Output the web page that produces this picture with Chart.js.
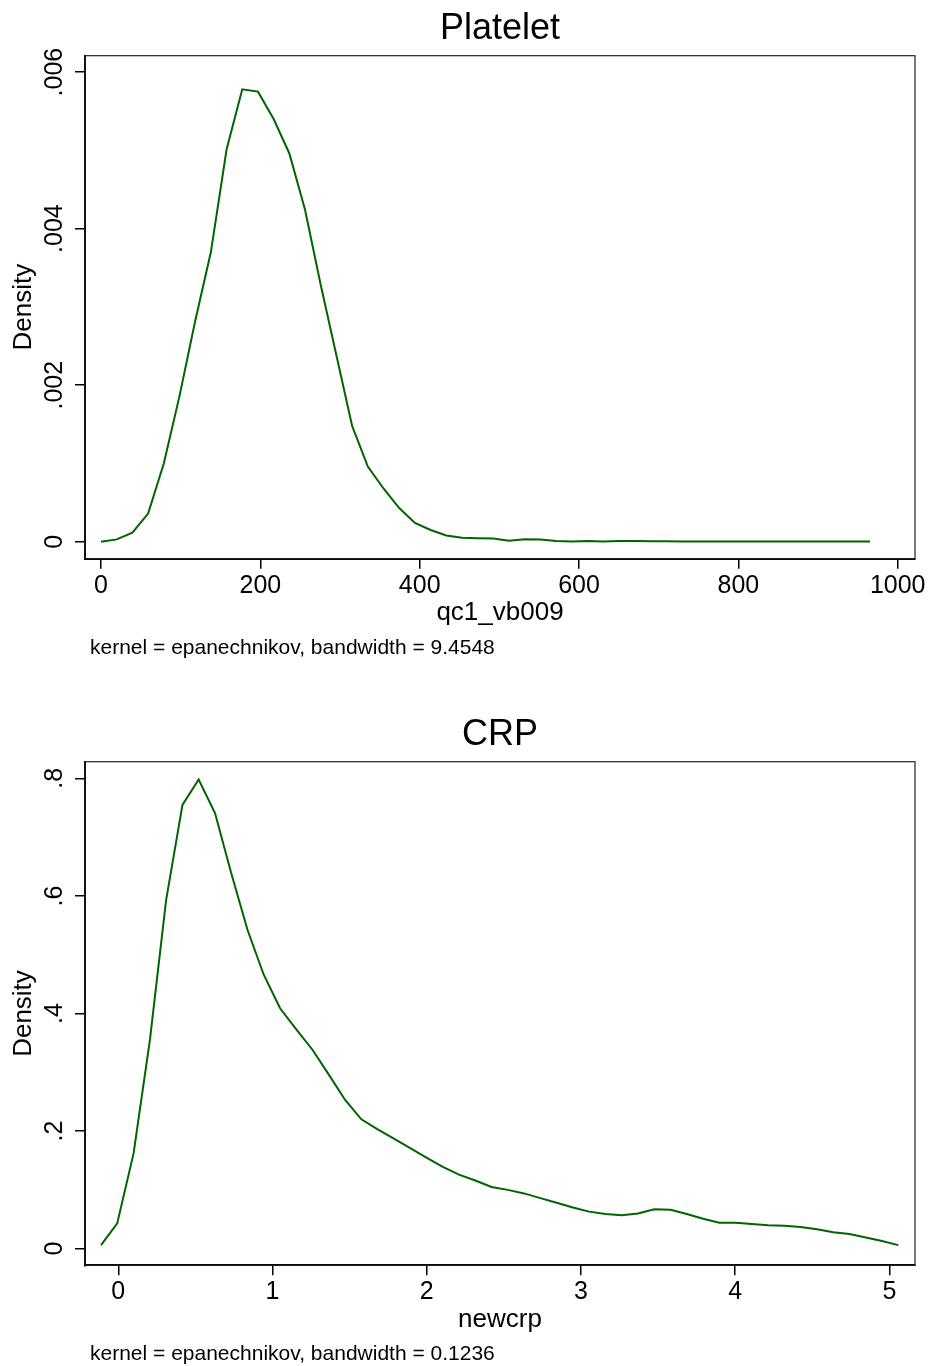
<!DOCTYPE html>
<html>
<head>
<meta charset="utf-8">
<script src="https://cdn.jsdelivr.net/npm/chart.js@4.4.1/dist/chart.umd.min.js"></script>
<style>
  html, body { margin: 0; padding: 0; background: #fff; }
  .box { position: absolute; left: 0; width: 930px; }
  #box1 { top: 0; height: 706px; }
  #box2 { top: 706px; height: 660px; }
</style>
</head>
<body>
<div class="box" id="box1"><canvas id="platelet"></canvas></div>
<div class="box" id="box2"><canvas id="crp"></canvas></div>
<script>
// Platelet (qc1_vb009) kernel density
const plateletX = [0, 19.7, 39.4, 59.1, 78.8, 98.5, 118.2, 137.9, 157.6, 177.3,
  197.0, 216.7, 236.4, 256.1, 275.8, 295.5, 315.2, 334.9, 354.6, 374.3,
  394.0, 413.7, 433.4, 453.1, 472.8, 492.5, 512.2, 531.9, 551.6, 571.3,
  591.0, 610.7, 630.4, 650.1, 669.8, 689.5, 709.2, 728.9, 748.6, 768.3,
  788.0, 807.7, 827.4, 847.1, 866.8, 886.5, 906.2, 925.9, 945.6, 965.3];
const plateletDensity = [0.0000, 0.00003, 0.000115, 0.00036, 0.00100, 0.00186, 0.00282, 0.00370, 0.00501, 0.00578,
  0.00575, 0.00540, 0.00496, 0.00424, 0.00328, 0.00238, 0.00148, 0.00096, 0.00068, 0.00043,
  0.00024, 0.00015, 0.00008, 0.00005, 0.000045, 0.00004, 0.000013, 0.00003, 0.000028, 0.00001,
  0.000003, 0.00001, 0.000003, 0.00001, 0.000008, 0.000006, 0.000005, 0.000004, 0.000004, 0.000004,
  0.000004, 0.000003, 0.000003, 0.000003, 0.000003, 0.000002, 0.000002, 0.000002, 0.000002, 0.000002];
const plateletTicksX = [0, 200, 400, 600, 800, 1000];
const plateletLabelsX = ['0', '200', '400', '600', '800', '1000'];
const plateletTicksY = [0, 0.002, 0.004, 0.006];
const plateletLabelsY = ['0', '.002', '.004', '.006'];

// CRP (newcrp) kernel density
const crpX = [-0.112, -0.007, 0.099, 0.205, 0.310, 0.416, 0.521, 0.627, 0.732, 0.838,
  0.943, 1.049, 1.154, 1.260, 1.365, 1.471, 1.576, 1.682, 1.787, 1.893,
  1.998, 2.104, 2.209, 2.315, 2.420, 2.526, 2.631, 2.737, 2.842, 2.948,
  3.053, 3.159, 3.264, 3.370, 3.475, 3.581, 3.686, 3.792, 3.897, 4.003,
  4.108, 4.214, 4.319, 4.425, 4.530, 4.636, 4.741, 4.847, 4.952, 5.058];
const crpDensity = [0.006, 0.043, 0.162, 0.355, 0.593, 0.755, 0.798, 0.741, 0.639, 0.542,
  0.466, 0.409, 0.373, 0.338, 0.296, 0.253, 0.220, 0.203, 0.187, 0.171,
  0.155, 0.139, 0.126, 0.116, 0.105, 0.100, 0.094, 0.086, 0.078, 0.070,
  0.063, 0.059, 0.057, 0.060, 0.067, 0.066, 0.059, 0.051, 0.044, 0.044,
  0.042, 0.040, 0.039, 0.037, 0.033, 0.028, 0.025, 0.019, 0.013, 0.006];
const crpTicksX = [0, 1, 2, 3, 4, 5];
const crpLabelsX = ['0', '1', '2', '3', '4', '5'];
const crpTicksY = [0, 0.2, 0.4, 0.6, 0.8];
const crpLabelsY = ['0', '.2', '.4', '.6', '.8'];

const FONT = '"Liberation Sans", Arial, Helvetica, sans-serif';
const LINE_GREEN = '#006400';

// frame around plot region, rotated y labels and kernel note (Stata look)
const stataFrame = {
  id: 'stataFrame',
  beforeDatasetsDraw(chart) {
    const ctx = chart.ctx, a = chart.chartArea;
    ctx.save();
    ctx.strokeStyle = '#222';
    ctx.lineWidth = 1.2;
    ctx.strokeRect(a.left, a.top, a.right - a.left, a.bottom - a.top);
    ctx.restore();
  },
  afterDraw(chart, args, opts) {
    const ctx = chart.ctx, a = chart.chartArea, ys = chart.scales.y;
    ctx.save();
    ctx.fillStyle = '#000';
    ctx.font = '25px ' + FONT;
    ctx.textAlign = 'center';
    ctx.textBaseline = 'alphabetic';
    opts.yTicks.forEach((v, i) => {
      ctx.save();
      ctx.translate(a.left - 23.3, ys.getPixelForValue(v));
      ctx.rotate(-Math.PI / 2);
      ctx.fillText(opts.yLabels[i], 0, 0);
      ctx.restore();
    });
    ctx.font = '21px ' + FONT;
    ctx.textAlign = 'left';
    ctx.fillText(opts.note, a.left + 5, a.bottom + 95);
    ctx.restore();
  }
};

function densityChart(id, cfg) {
  const axisGrid = { drawOnChartArea: false, drawTicks: true, tickLength: 10, color: '#000', lineWidth: 1.5 };
  return new Chart(document.getElementById(id), {
    type: 'scatter',
    data: {
      datasets: [{
        data: cfg.x.map((v, i) => ({ x: v, y: cfg.y[i] })),
        showLine: true,
        borderColor: LINE_GREEN,
        borderWidth: 2,
        pointRadius: 0,
        tension: 0,
        fill: false
      }]
    },
    options: {
      responsive: true,
      maintainAspectRatio: false,
      animation: false,
      layout: { padding: { top: 0, left: 0, right: 15, bottom: cfg.bottomPad } },
      plugins: {
        legend: { display: false },
        tooltip: { enabled: false },
        title: {
          display: true, text: cfg.title, fullSize: false, color: '#000',
          font: { family: FONT, size: 36, weight: 'normal' },
          padding: { top: 7.5, bottom: 5 }
        },
        stataFrame: { yTicks: cfg.ticksY, yLabels: cfg.labelsY, note: cfg.note }
      },
      scales: {
        x: {
          type: 'linear', min: cfg.xMin, max: cfg.xMax,
          afterBuildTicks: s => { s.ticks = cfg.ticksX.map(v => ({ value: v })); },
          afterFit: s => { s.height = 70; s.paddingLeft = 0; s.paddingRight = 0; },
          grid: axisGrid,
          border: { color: '#000', width: 2 },
          ticks: {
            color: '#000', font: { family: FONT, size: 25 }, padding: 2,
            maxRotation: 0, autoSkip: false,
            callback: (v, i) => cfg.labelsX[i]
          },
          title: { display: true, text: cfg.xTitle, color: '#000', font: { family: FONT, size: 26 }, padding: { top: 0, bottom: 0 } }
        },
        y: {
          type: 'linear', min: cfg.yMin, max: cfg.yMax,
          afterBuildTicks: s => { s.ticks = cfg.ticksY.map(v => ({ value: v })); },
          afterFit: s => { s.width = 85; s.paddingTop = 0; s.paddingBottom = 0; },
          grid: axisGrid,
          border: { color: '#000', width: 2 },
          ticks: { display: false },
          title: { display: true, text: 'Density', color: '#000', font: { family: FONT, size: 26 }, padding: { top: 8.7, bottom: 0 } }
        }
      }
    },
    plugins: [stataFrame]
  });
}

densityChart('platelet', {
  title: 'Platelet', xTitle: 'qc1_vb009',
  note: 'kernel = epanechnikov, bandwidth = 9.4548',
  x: plateletX, y: plateletDensity,
  ticksX: plateletTicksX, labelsX: plateletLabelsX,
  ticksY: plateletTicksY, labelsY: plateletLabelsY,
  xMin: -20.1, xMax: 1021.7, yMin: -0.000217, yMax: 0.006209,
  bottomPad: 77.3
});

densityChart('crp', {
  title: 'CRP', xTitle: 'newcrp',
  note: 'kernel = epanechnikov, bandwidth = 0.1236',
  x: crpX, y: crpDensity,
  ticksX: crpTicksX, labelsX: crpLabelsX,
  ticksY: crpTicksY, labelsY: crpLabelsY,
  xMin: -0.216, xMax: 5.166, yMin: -0.0283, yMax: 0.8284,
  bottomPad: 30.7
});
</script>
</body>
</html>
